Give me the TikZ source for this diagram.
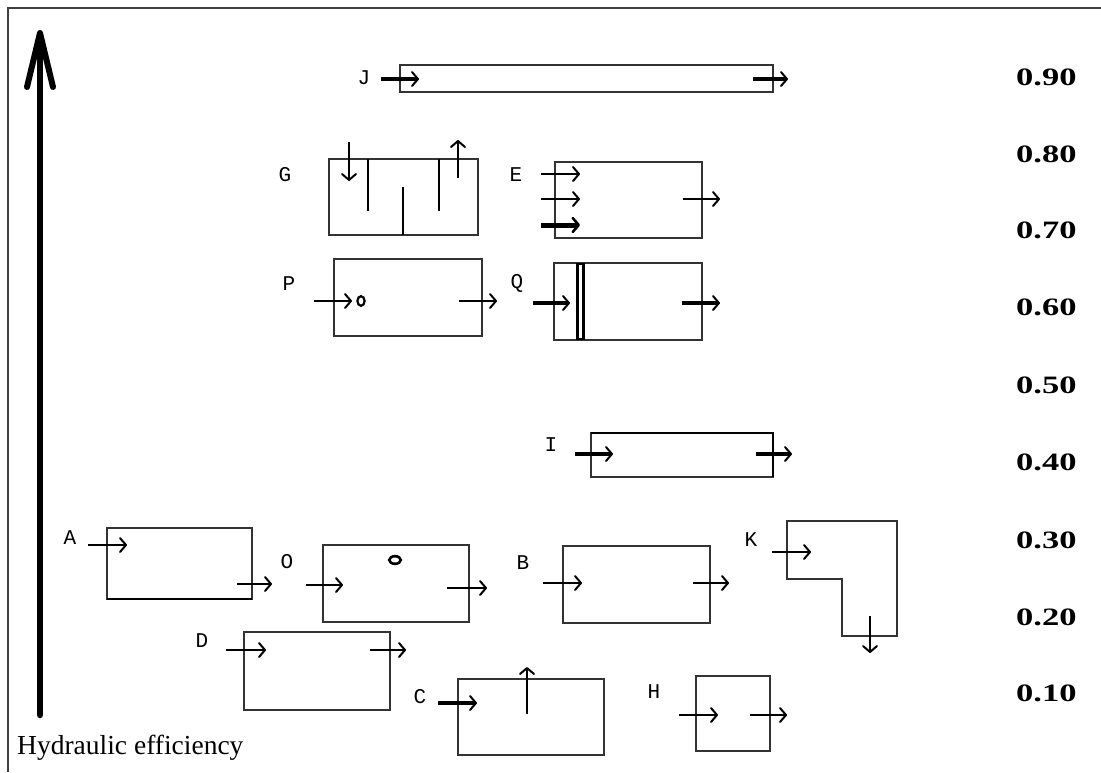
\documentclass[tikz,border=0pt]{standalone}
\usepackage{fontspec}
\usepackage{graphicx}
\usetikzlibrary{arrows.meta}
\setmainfont{Liberation Serif}
\newfontfamily\lblfont{Liberation Mono}
\newfontfamily\numfont{Liberation Serif}
\tikzset{
  frame/.style={draw=black!75, line width=1.5pt},
  box/.style={draw=black!80, line width=1.3pt},
  edge/.style={draw=black, line width=2.6pt},
  flow/.style={line width=2.4pt, -{Straight Barb[length=6pt,width=14pt,line width=2pt,round]}},
  flowthick/.style={flow, line width=3.6pt},
  flowheavy/.style={line width=5pt, -{Straight Barb[length=6pt,width=14pt,line width=2.6pt,round]}},
  lbl/.style={font=\lblfont\fontsize{21}{24}\selectfont, inner sep=0pt},
  num/.style={font=\numfont\bfseries\fontsize{25}{28}\selectfont, inner sep=0pt, anchor=west},
  dot/.style={draw=black, line width=2.6pt},
}
\begin{document}
\begin{tikzpicture}[x=1pt,y=-1pt]
\useasboundingbox (0,0) rectangle (1101,772);
% frame
\draw[frame] (8,772) -- (8,8) -- (1101,8);
% axis
\coordinate (axb) at (40,715);
\coordinate (axt) at (40,34);
\draw[line width=6.5pt, line cap=round] (axb) -- (axt);
\draw[line width=6pt, line cap=round, line join=round] (27,87) -- (40,33) -- (53,87);
\node[anchor=base west, inner sep=0pt, font=\fontsize{27.5}{31}\selectfont] (axlbl) at (17,754) {Hydraulic efficiency};
% scale numbers
\foreach \v/\y in {0.90/77,0.80/154,0.70/230,0.60/307,0.50/385,0.40/462,0.30/540,0.20/617,0.10/693}{
  \node[num] (n\v) at (1016,\y) {\scalebox{1.38}[1]{\v}};
}
% J
\draw[box] (400,65) rectangle (773,92);
\node[lbl] (J) at (364,78) {J};
\draw[flowthick] (381,79) -- (419,79);
\draw[flowthick] (753,79) -- (788,79);
% G
\draw[box] (329,159) rectangle (478,235);
\node[lbl] (G) at (285,175) {G};
\draw[edge, line width=2.4pt] (368,159) -- (368,211);
\draw[edge, line width=2.4pt] (403,235) -- (403,187);
\draw[edge, line width=2.4pt] (439,159) -- (439,211);
\draw[flow] (349,142) -- (349,181);
\draw[flow] (458,178) -- (458,140);
% E
\draw[box] (555,162) rectangle (702,238);
\node[lbl] (E) at (516,175) {E};
\draw[flow] (541,174) -- (580,174);
\draw[flow] (541,199) -- (580,199);
\draw[flowheavy] (541,225) -- (580,225);
\draw[flow] (683,199) -- (720,199);
% P
\draw[box] (334,259) rectangle (482,336);
\node[lbl] (P) at (289,284) {P};
\draw[flow] (314,301) -- (352,301);
\draw[dot, line width=2.2pt] (361,301) ellipse [x radius=3.6pt, y radius=4.8pt];
\draw[flow] (459,301) -- (497,301);
% Q
\draw[box] (554,263) rectangle (702,340);
\node[lbl] (Q) at (517,283) {Q};
\draw[draw=black, line width=2.2pt] (577.5,264) rectangle (583.5,339);
\draw[flowthick] (533,303) -- (570,303);
\draw[flowthick] (682,303) -- (720,303);
% I
\draw[box] (591,433) rectangle (773,477);
\draw[edge, line width=2.6pt] (591,433) -- (773,433) -- (773,477);
\node[lbl] (I) at (551,445) {I};
\draw[flowthick] (575,454) -- (613,454);
\draw[flowthick] (756,454) -- (792,454);
% A
\draw[box] (107,528) rectangle (252,599);
\draw[edge, line width=2.6pt] (107,599) -- (252,599);
\node[lbl] (A) at (70,538) {A};
\draw[flow] (88,545) -- (127,545);
\draw[flow] (237,584) -- (272,584);
% O
\draw[box] (323,545) rectangle (469,622);
\node[lbl] (O) at (287,562) {O};
\draw[dot] (395,560) ellipse [x radius=5.8pt, y radius=3.8pt];
\draw[flow] (306,585) -- (343,585);
\draw[flow] (447,588) -- (487,588);
% B
\draw[box] (563,546) rectangle (710,623);
\node[lbl] (B) at (523,563) {B};
\draw[flow] (543,583) -- (582,583);
\draw[flow] (693,583) -- (729,583);
% K
\draw[box] (787,521) -- (897,521) -- (897,636) -- (842,636) -- (842,579) -- (787,579) -- cycle;
\node[lbl] (K) at (751,540) {K};
\draw[flow] (772,552) -- (811,552);
\draw[flow] (870,616) -- (870,653);
% D
\draw[box] (244,632) rectangle (390,710);
\node[lbl] (D) at (202,641) {D};
\draw[flow] (226,650) -- (266,650);
\draw[flow] (370,650) -- (406,650);
% C
\draw[box] (458,679) rectangle (604,755);
\node[lbl] (C) at (420,697) {C};
\draw[flowthick] (438,703) -- (477,703);
\draw[flow] (527,714) -- (527,667);
% H
\draw[box] (696,676) rectangle (770,751);
\node[lbl] (H) at (654,692) {H};
\draw[flow] (679,715) -- (718,715);
\draw[flow] (750,715) -- (787,715);
\end{tikzpicture}
\end{document}
